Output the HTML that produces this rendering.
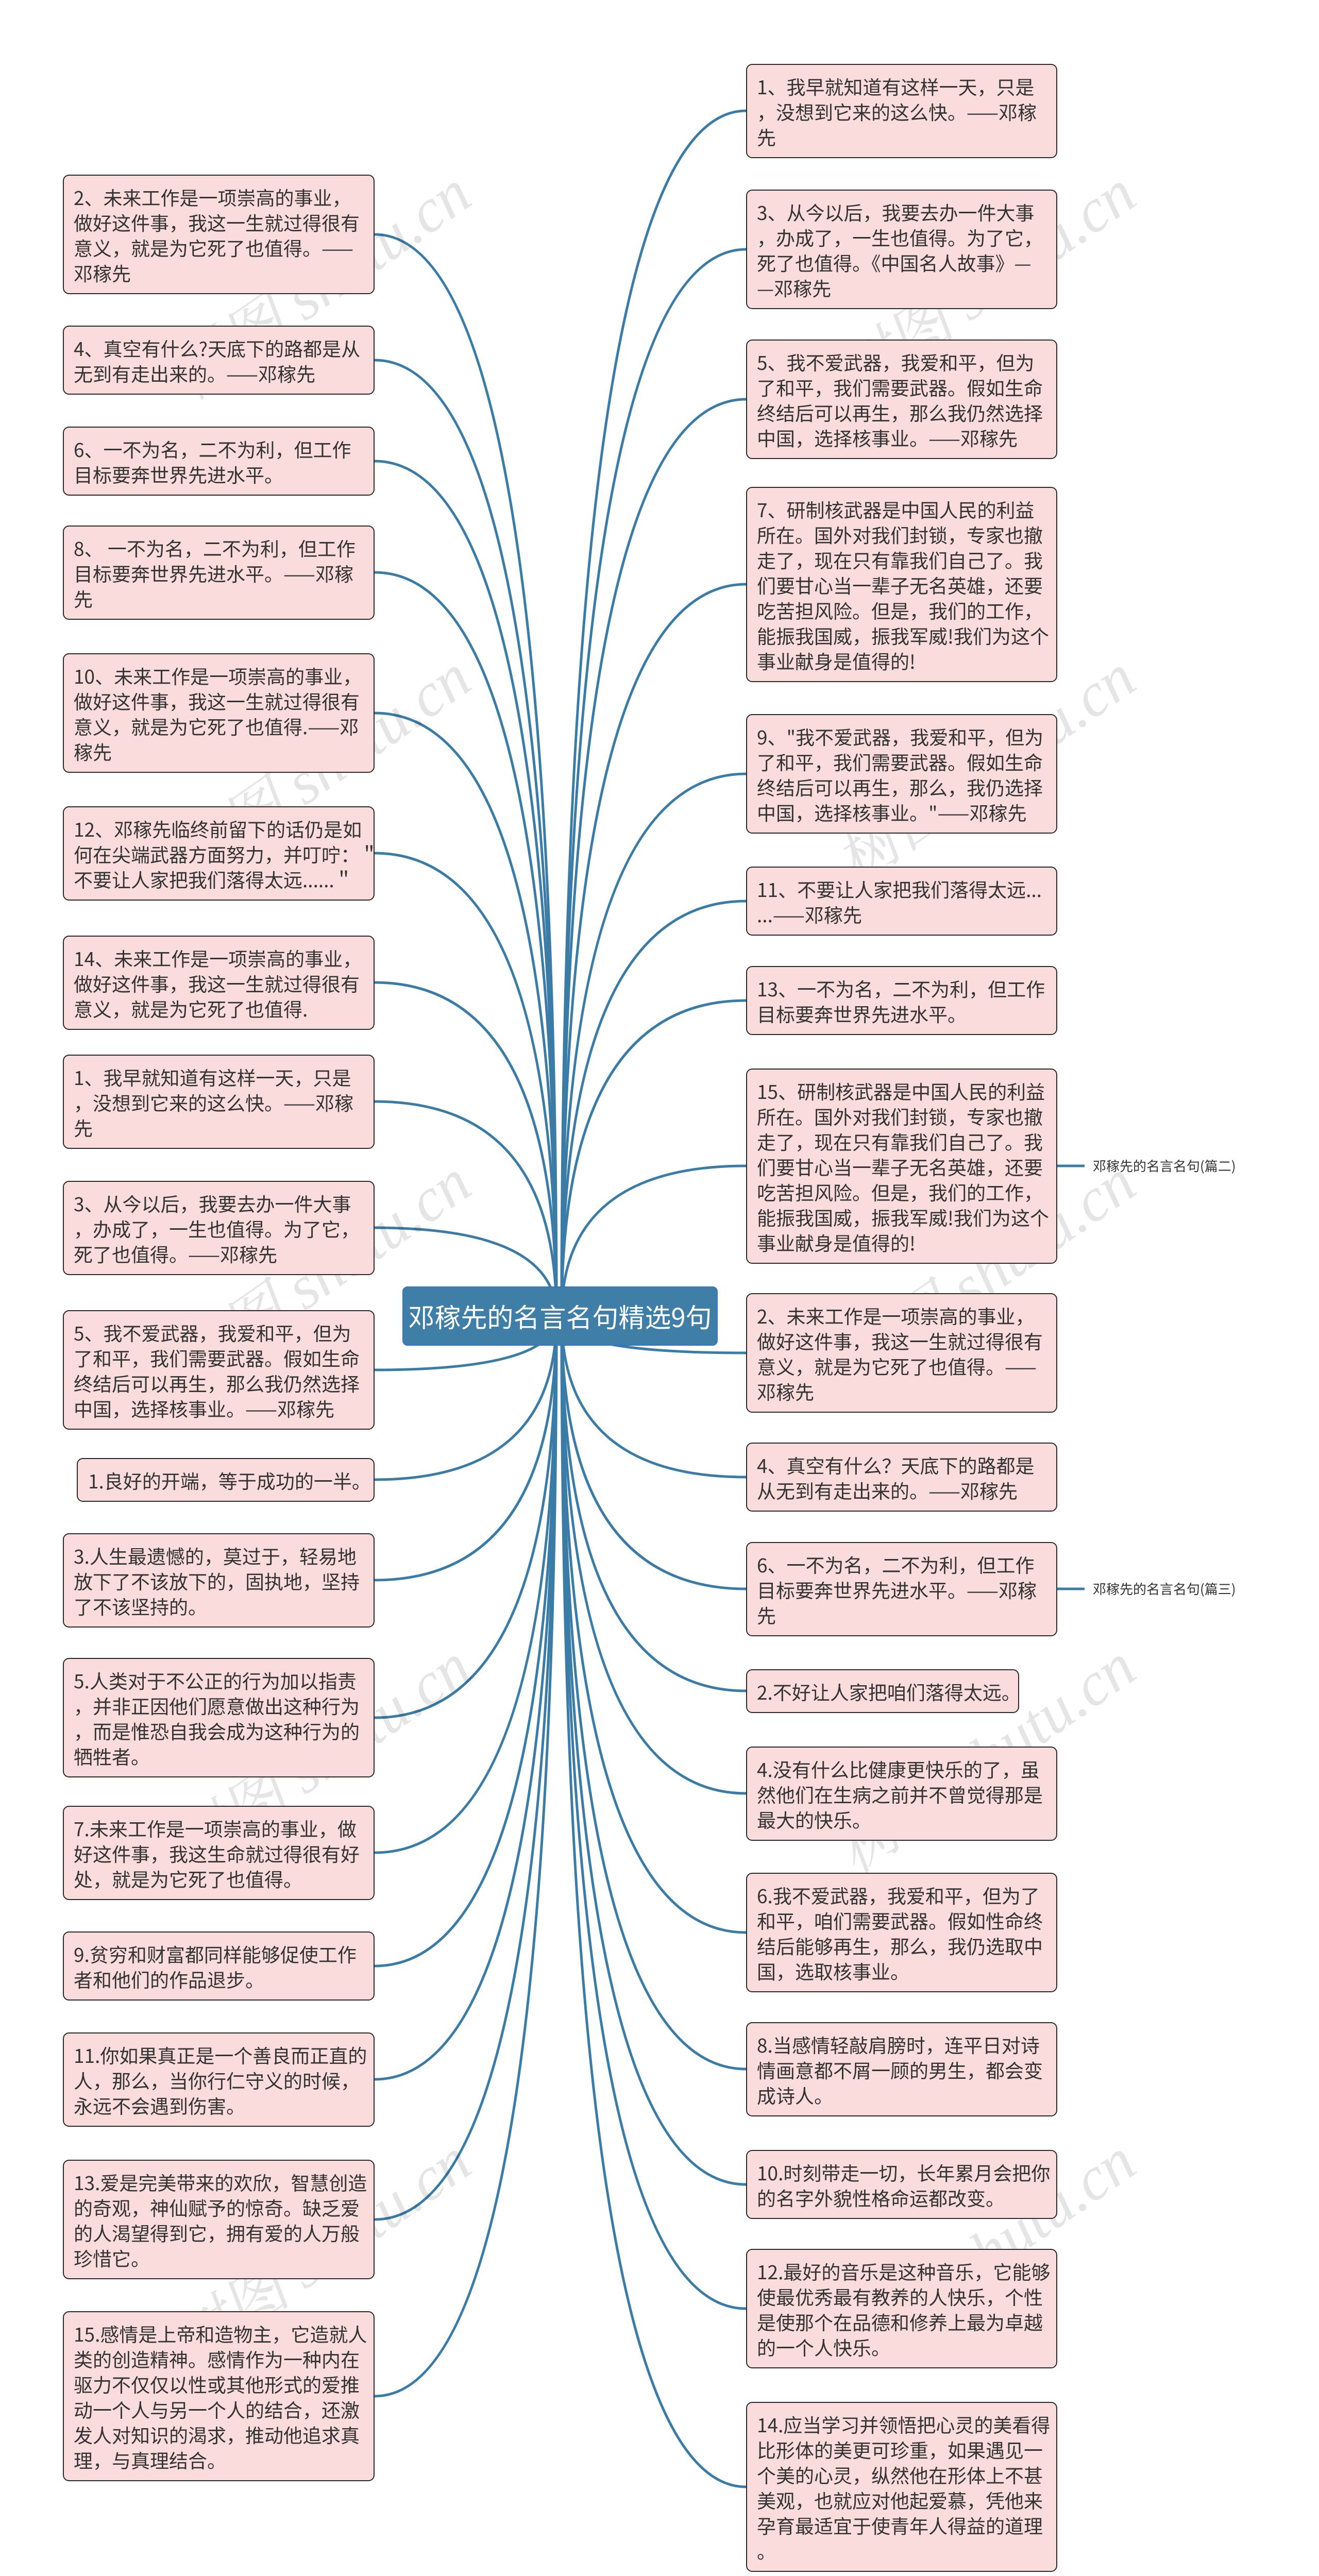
<!DOCTYPE html>
<html><head><meta charset="utf-8"><style>
html,body{margin:0;padding:0;background:#fff;width:2560px;height:5110px;overflow:hidden}
#wrap{position:relative;width:2560px;height:5110px;overflow:hidden;font-family:"Noto Sans CJK SC",sans-serif}
.b{position:absolute;background:#fbdcdc;border:2.5px solid #2a2a2a;border-radius:12px;box-sizing:border-box;padding:17px 0 0 19px;font-family:"Noto Sans CJK SC",sans-serif;font-size:37px;line-height:49px;color:#333;white-space:nowrap;overflow:hidden}
.L{left:122px;width:605px}
.R{left:1448px;width:604px}
.n1{height:85px}.n2{height:134px}.n3{height:183px}.n4{height:232px}.n6{height:330px}.n7{height:379px}
#c{position:absolute;left:781px;top:2497px;width:612px;height:115px;background:#3e7ea7;border:2px solid #3a72c8;border-radius:10px;box-sizing:border-box;color:#fff;font-size:51px;line-height:111px;text-align:center;white-space:nowrap;overflow:hidden}
.lab{position:absolute;left:2121px;font-size:26px;line-height:36px;color:#333;white-space:nowrap}
svg{position:absolute;left:0;top:0;display:block}
</style></head><body><div id="wrap">
<svg width="2560" height="5110" viewBox="0 0 2560 5110">
<g fill="none" stroke="#3b7ca6" stroke-width="5">
<path d="M1090 2555 Q1090 215 1448 215"/>
<path d="M1090 2555 Q1090 484 1448 484"/>
<path d="M1090 2555 Q1090 775 1448 775"/>
<path d="M1090 2555 Q1090 1134 1448 1134"/>
<path d="M1090 2555 Q1090 1502 1448 1502"/>
<path d="M1090 2555 Q1090 1749 1448 1749"/>
<path d="M1090 2555 Q1090 1942 1448 1942"/>
<path d="M1090 2555 Q1090 2263 1448 2263"/>
<path d="M1090 2555 Q1090 2626 1448 2626"/>
<path d="M1090 2555 Q1090 2867 1448 2867"/>
<path d="M1090 2555 Q1090 3084 1448 3084"/>
<path d="M1090 2555 Q1090 3282 1448 3282"/>
<path d="M1090 2555 Q1090 3481 1448 3481"/>
<path d="M1090 2555 Q1090 3751 1448 3751"/>
<path d="M1090 2555 Q1090 4016 1448 4016"/>
<path d="M1090 2555 Q1090 4240 1448 4240"/>
<path d="M1090 2555 Q1090 4481 1448 4481"/>
<path d="M1090 2555 Q1090 4827 1448 4827"/>
<path d="M1080 2555 Q1080 455 727 455"/>
<path d="M1080 2555 Q1080 699 727 699"/>
<path d="M1080 2555 Q1080 895 727 895"/>
<path d="M1080 2555 Q1080 1111 727 1111"/>
<path d="M1080 2555 Q1080 1384 727 1384"/>
<path d="M1080 2555 Q1080 1656 727 1656"/>
<path d="M1080 2555 Q1080 1907 727 1907"/>
<path d="M1080 2555 Q1080 2138 727 2138"/>
<path d="M1080 2555 Q1080 2383 727 2383"/>
<path d="M1080 2555 Q1080 2659 727 2659"/>
<path d="M1080 2555 Q1080 2872 727 2872"/>
<path d="M1080 2555 Q1080 3067 727 3067"/>
<path d="M1080 2555 Q1080 3334 727 3334"/>
<path d="M1080 2555 Q1080 3596 727 3596"/>
<path d="M1080 2555 Q1080 3816 727 3816"/>
<path d="M1080 2555 Q1080 4036 727 4036"/>
<path d="M1080 2555 Q1080 4308 727 4308"/>
<path d="M1080 2555 Q1080 4651 727 4651"/>
<path d="M2052 2263 L2105 2263"/>
<path d="M2052 3084 L2105 3084"/>
</g>
<g font-family="Liberation Serif, Noto Serif CJK SC, serif" font-style="italic" font-size="120" fill="#000" fill-opacity="0.1">
<text transform="translate(370,780) rotate(-35)">树图 shutu.cn</text>
<text transform="translate(1660,780) rotate(-35)">树图 shutu.cn</text>
<text transform="translate(370,1720) rotate(-35)">树图 shutu.cn</text>
<text transform="translate(1660,1720) rotate(-35)">树图 shutu.cn</text>
<text transform="translate(370,2700) rotate(-35)">树图 shutu.cn</text>
<text transform="translate(1660,2700) rotate(-35)">树图 shutu.cn</text>
<text transform="translate(370,3640) rotate(-35)">树图 shutu.cn</text>
<text transform="translate(1660,3640) rotate(-35)">树图 shutu.cn</text>
<text transform="translate(370,4600) rotate(-35)">树图 shutu.cn</text>
<text transform="translate(1660,4600) rotate(-35)">树图 shutu.cn</text>
</g>
</svg>

<div class="b R n3" style="top:124px">1、我早就知道有这样一天，只是<br>，没想到它来的这么快。——邓稼<br>先</div>
<div class="b R n4" style="top:368px">3、从今以后，我要去办一件大事<br>，办成了，一生也值得。为了它，<br>死了也值得。《中国名人故事》—<br>—邓稼先</div>
<div class="b R n4" style="top:659px">5、我不爱武器，我爱和平，但为<br>了和平，我们需要武器。假如生命<br>终结后可以再生，那么我仍然选择<br>中国，选择核事业。——邓稼先</div>
<div class="b R n7" style="top:945px">7、研制核武器是中国人民的利益<br>所在。国外对我们封锁，专家也撤<br>走了，现在只有靠我们自己了。我<br>们要甘心当一辈子无名英雄，还要<br>吃苦担风险。但是，我们的工作，<br>能振我国威，振我军威!我们为这个<br>事业献身是值得的!</div>
<div class="b R n4" style="top:1386px">9、"我不爱武器，我爱和平，但为<br>了和平，我们需要武器。假如生命<br>终结后可以再生，那么，我仍选择<br>中国，选择核事业。"——邓稼先</div>
<div class="b R n2" style="top:1682px">11、不要让人家把我们落得太远...<br>...——邓稼先</div>
<div class="b R n2" style="top:1875px">13、一不为名，二不为利，但工作<br>目标要奔世界先进水平。</div>
<div class="b R n7" style="top:2074px">15、研制核武器是中国人民的利益<br>所在。国外对我们封锁，专家也撤<br>走了，现在只有靠我们自己了。我<br>们要甘心当一辈子无名英雄，还要<br>吃苦担风险。但是，我们的工作，<br>能振我国威，振我军威!我们为这个<br>事业献身是值得的!</div>
<div class="b R n4" style="top:2510px">2、未来工作是一项崇高的事业，<br>做好这件事，我这一生就过得很有<br>意义，就是为它死了也值得。——<br>邓稼先</div>
<div class="b R n2" style="top:2800px">4、真空有什么？天底下的路都是<br>从无到有走出来的。——邓稼先</div>
<div class="b R n3" style="top:2993px">6、一不为名，二不为利，但工作<br>目标要奔世界先进水平。——邓稼<br>先</div>
<div class="b R n1" style="top:3240px;width:530px">2.不好让人家把咱们落得太远。</div>
<div class="b R n3" style="top:3390px">4.没有什么比健康更快乐的了，虽<br>然他们在生病之前并不曾觉得那是<br>最大的快乐。</div>
<div class="b R n4" style="top:3635px">6.我不爱武器，我爱和平，但为了<br>和平，咱们需要武器。假如性命终<br>结后能够再生，那么，我仍选取中<br>国，选取核事业。</div>
<div class="b R n3" style="top:3925px">8.当感情轻敲肩膀时，连平日对诗<br>情画意都不屑一顾的男生，都会变<br>成诗人。</div>
<div class="b R n2" style="top:4173px">10.时刻带走一切，长年累月会把你<br>的名字外貌性格命运都改变。</div>
<div class="b R n4" style="top:4365px">12.最好的音乐是这种音乐，它能够<br>使最优秀最有教养的人快乐，个性<br>是使那个在品德和修养上最为卓越<br>的一个人快乐。</div>
<div class="b R n6" style="top:4662px">14.应当学习并领悟把心灵的美看得<br>比形体的美更可珍重，如果遇见一<br>个美的心灵，纵然他在形体上不甚<br>美观，也就应对他起爱慕，凭他来<br>孕育最适宜于使青年人得益的道理<br>。</div>

<div class="b L n4" style="top:339px">2、未来工作是一项崇高的事业，<br>做好这件事，我这一生就过得很有<br>意义，就是为它死了也值得。——<br>邓稼先</div>
<div class="b L n2" style="top:632px">4、真空有什么?天底下的路都是从<br>无到有走出来的。——邓稼先</div>
<div class="b L n2" style="top:828px">6、一不为名，二不为利，但工作<br>目标要奔世界先进水平。</div>
<div class="b L n3" style="top:1020px">8、 一不为名，二不为利，但工作<br>目标要奔世界先进水平。——邓稼<br>先</div>
<div class="b L n4" style="top:1268px">10、未来工作是一项崇高的事业，<br>做好这件事，我这一生就过得很有<br>意义，就是为它死了也值得.——邓<br>稼先</div>
<div class="b L n3" style="top:1565px">12、邓稼先临终前留下的话仍是如<br>何在尖端武器方面努力，并叮咛：＂<br>不要让人家把我们落得太远......＂</div>
<div class="b L n3" style="top:1816px">14、未来工作是一项崇高的事业，<br>做好这件事，我这一生就过得很有<br>意义，就是为它死了也值得.</div>
<div class="b L n3" style="top:2047px">1、我早就知道有这样一天，只是<br>，没想到它来的这么快。——邓稼<br>先</div>
<div class="b L n3" style="top:2292px">3、从今以后，我要去办一件大事<br>，办成了，一生也值得。为了它，<br>死了也值得。——邓稼先</div>
<div class="b L n4" style="top:2543px">5、我不爱武器，我爱和平，但为<br>了和平，我们需要武器。假如生命<br>终结后可以再生，那么我仍然选择<br>中国，选择核事业。——邓稼先</div>
<div class="b L n1" style="top:2830px;left:149px;width:578px;padding-left:20px">1.良好的开端，等于成功的一半。</div>
<div class="b L n3" style="top:2976px">3.人生最遗憾的，莫过于，轻易地<br>放下了不该放下的，固执地，坚持<br>了不该坚持的。</div>
<div class="b L n4" style="top:3218px">5.人类对于不公正的行为加以指责<br>，并非正因他们愿意做出这种行为<br>，而是惟恐自我会成为这种行为的<br>牺牲者。</div>
<div class="b L n3" style="top:3505px">7.未来工作是一项崇高的事业，做<br>好这件事，我这生命就过得很有好<br>处，就是为它死了也值得。</div>
<div class="b L n2" style="top:3749px">9.贫穷和财富都同样能够促使工作<br>者和他们的作品退步。</div>
<div class="b L n3" style="top:3945px">11.你如果真正是一个善良而正直的<br>人，那么，当你行仁守义的时候，<br>永远不会遇到伤害。</div>
<div class="b L n4" style="top:4192px">13.爱是完美带来的欢欣，智慧创造<br>的奇观，神仙赋予的惊奇。缺乏爱<br>的人渴望得到它，拥有爱的人万般<br>珍惜它。</div>
<div class="b L n6" style="top:4486px">15.感情是上帝和造物主，它造就人<br>类的创造精神。感情作为一种内在<br>驱力不仅仅以性或其他形式的爱推<br>动一个人与另一个人的结合，还激<br>发人对知识的渴求，推动他追求真<br>理，与真理结合。</div>

<div class="lab" style="top:2245px">邓稼先的名言名句(篇二)</div>
<div class="lab" style="top:3066px">邓稼先的名言名句(篇三)</div>

<div id="c">邓稼先的名言名句精选9句</div>
</div></body></html>
